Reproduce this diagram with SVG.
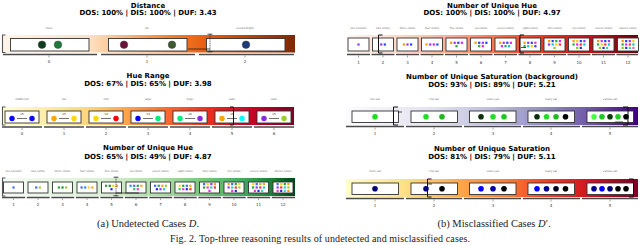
<svg xmlns="http://www.w3.org/2000/svg" width="640" height="245" viewBox="0 0 640 245">
<defs>
<linearGradient id="gDist" x1="0" x2="1" y1="0" y2="0">
<stop offset="0" stop-color="#fff5eb"/><stop offset="0.3" stop-color="#fde0c2"/><stop offset="0.42" stop-color="#fdb77a"/><stop offset="0.58" stop-color="#f67d2a"/><stop offset="0.72" stop-color="#e2580e"/><stop offset="0.86" stop-color="#b63f05"/><stop offset="1" stop-color="#7f2704"/>
</linearGradient>
<linearGradient id="gHue" x1="0" x2="1" y1="0" y2="0">
<stop offset="0" stop-color="#ffffd4"/><stop offset="0.15" stop-color="#ffedaa"/><stop offset="0.3" stop-color="#fed47a"/><stop offset="0.45" stop-color="#fd9b43"/><stop offset="0.6" stop-color="#fb5a2b"/><stop offset="0.75" stop-color="#e31e1d"/><stop offset="0.88" stop-color="#bd0026"/><stop offset="1" stop-color="#800026"/>
</linearGradient>
<linearGradient id="gGreen" x1="0" x2="1" y1="0" y2="0">
<stop offset="0" stop-color="#f7fcf5"/><stop offset="0.35" stop-color="#d9f0d3"/><stop offset="0.55" stop-color="#a8dca1"/><stop offset="0.7" stop-color="#74c476"/><stop offset="0.82" stop-color="#41ab5d"/><stop offset="0.92" stop-color="#1d7f3a"/><stop offset="1" stop-color="#00441b"/>
</linearGradient>
<linearGradient id="gReds" x1="0" x2="1" y1="0" y2="0">
<stop offset="0" stop-color="#fff5f0"/><stop offset="0.22" stop-color="#fdd2bf"/><stop offset="0.4" stop-color="#fc9f81"/><stop offset="0.55" stop-color="#f8643f"/><stop offset="0.7" stop-color="#e0301e"/><stop offset="0.85" stop-color="#b81419"/><stop offset="1" stop-color="#67000d"/>
</linearGradient>
<linearGradient id="gPurp" x1="0" x2="1" y1="0" y2="0">
<stop offset="0" stop-color="#fcfbfd"/><stop offset="0.3" stop-color="#e3e2ef"/><stop offset="0.5" stop-color="#bcbddc"/><stop offset="0.7" stop-color="#8c86c0"/><stop offset="0.85" stop-color="#6a51a3"/><stop offset="1" stop-color="#3f007d"/>
</linearGradient>
<linearGradient id="gSat" x1="0" x2="1" y1="0" y2="0">
<stop offset="0" stop-color="#ffffcc"/><stop offset="0.2" stop-color="#fee087"/><stop offset="0.38" stop-color="#feab49"/><stop offset="0.55" stop-color="#fc7a35"/><stop offset="0.7" stop-color="#ef3a22"/><stop offset="0.85" stop-color="#c8111f"/><stop offset="1" stop-color="#800026"/>
</linearGradient>
</defs>
<style>
.title{font-family:"DejaVu Sans",sans-serif;font-weight:bold;font-size:7px;text-anchor:middle;fill:#000}
.tk{font-family:"DejaVu Sans",sans-serif;font-size:4px;text-anchor:middle;fill:#333}
.lb{font-family:"DejaVu Sans",sans-serif;font-size:2.6px;text-anchor:middle;fill:#666}
.n{font-family:"DejaVu Sans",sans-serif;font-size:2.8px;text-anchor:middle;fill:#333}
.cap{font-family:"Liberation Serif",serif;font-size:10.5px;text-anchor:middle;fill:#222}
.fig{font-family:"Liberation Serif",serif;font-size:10px;text-anchor:middle;fill:#222}
.box{fill:#fff;stroke:#333;stroke-width:0.9}
.bar{stroke:#4a4a4a;stroke-width:1.5;fill:none}
.tick{stroke:#444;stroke-width:0.5}
.brk{fill:none;stroke:#111;stroke-width:1}
.lbrk{fill:none;stroke:#555;stroke-width:1.1}
.dsh{fill:none;stroke:#222;stroke-width:0.8;stroke-dasharray:1 0.8}
.ln{stroke:#222;stroke-width:0.8}
.dot{stroke:#333;stroke-width:0.4}
.pair{stroke:#333;stroke-width:0.7}
</style>

<!-- ===== Panel (a) : Distance ===== -->
<g id="a-distance">
<text class="title" x="148" y="7.5">Distance</text>
<text class="title" x="148" y="15">DOS: 100% | DIS: 100% | DUF: 3.43</text>
<rect x="2" y="35" width="293" height="17.5" fill="url(#gDist)"/>
<g id="a-dist-0"><text class="lb" x="49" y="29">close</text><rect class="box" x="10.5" y="38.5" width="78.5" height="12.5"/><circle class="dot" cx="42" cy="44.7" r="3.8" fill="#0b3d1e"/><circle class="dot" cx="58" cy="44.7" r="3.8" fill="#1c7a3c"/></g>
<g id="a-dist-1"><text class="lb" x="147" y="29">far</text><rect class="box" x="108.5" y="38.5" width="78.5" height="12.5"/><circle class="dot" cx="124" cy="44.7" r="3.8" fill="#6d1238"/><circle class="dot" cx="172" cy="44.7" r="3.8" fill="#3d5a2e"/></g>
<g id="a-dist-2"><text class="lb" x="245" y="29">overall bright</text><rect class="box" x="206.5" y="38.5" width="78.5" height="12.5"/><circle class="dot" cx="246" cy="44.7" r="3.8" fill="#1b3a78"/></g>
<g id="a-dist-axis">
<path class="bar" d="M3 54.5H97M101 54.5H195M199 54.5H294"/>
<path class="tick" d="M49 55.5V57.5M147 55.5V57.5M245 55.5V57.5"/>
<text class="tk" x="49" y="63">0</text><text class="tk" x="147" y="63">1</text><text class="tk" x="245" y="63">2</text>
</g>
</g>

<!-- ===== Panel (a) : Hue Range ===== -->
<g id="a-huerange">
<text class="title" x="148" y="78">Hue Range</text>
<text class="title" x="148" y="86">DOS: 67% | DIS: 65% | DUF: 3.98</text>
<rect x="2" y="107" width="292" height="18" fill="url(#gHue)"/>
<g id="a-hr-0"><text class="lb" x="22" y="100">indifferent</text><rect class="box" x="5" y="111" width="34" height="12"/><text class="n" x="22" y="115">15</text><line class="pair" x1="17" y1="118.5" x2="27" y2="118.5"/><circle cx="12" cy="118.5" r="2.7" fill="#0a0aff"/><circle cx="32" cy="118.5" r="2.7" fill="#0a0aff"/></g>
<g id="a-hr-1"><text class="lb" x="64" y="100">low</text><rect class="box" x="47" y="111" width="34" height="12"/><text class="n" x="64" y="115">15</text><line class="pair" x1="59" y1="118.5" x2="69" y2="118.5"/><circle cx="54" cy="118.5" r="2.7" fill="#ffa500"/><circle cx="74" cy="118.5" r="2.7" fill="#ffd700"/></g>
<g id="a-hr-2"><text class="lb" x="106" y="100">mid</text><rect class="box" x="89" y="111" width="34" height="12"/><text class="n" x="106" y="115">13</text><line class="pair" x1="101" y1="118.5" x2="111" y2="118.5"/><circle cx="96" cy="118.5" r="2.7" fill="#ffd700"/><circle cx="116" cy="118.5" r="2.7" fill="#ff0000"/></g>
<g id="a-hr-3"><text class="lb" x="148" y="100">large</text><rect class="box" x="131" y="111" width="34" height="12"/><text class="n" x="148" y="115">13</text><line class="pair" x1="143" y1="118.5" x2="153" y2="118.5"/><circle cx="138" cy="118.5" r="2.7" fill="#0000ff"/><circle cx="158" cy="118.5" r="2.7" fill="#00ee77"/></g>
<g id="a-hr-4"><text class="lb" x="190" y="100">huge</text><rect class="box" x="173" y="111" width="34" height="12"/><text class="n" x="190" y="115">16</text><line class="pair" x1="185" y1="118.5" x2="195" y2="118.5"/><circle cx="180" cy="118.5" r="2.7" fill="#00ee77"/><circle cx="200" cy="118.5" r="2.7" fill="#8a2be2"/></g>
<g id="a-hr-5"><text class="lb" x="232" y="100">wide</text><rect class="box" x="215" y="111" width="34" height="12"/><text class="n" x="232" y="115">15</text><line class="pair" x1="227" y1="118.5" x2="237" y2="118.5"/><circle cx="222" cy="118.5" r="2.7" fill="#ffa500"/><circle cx="242" cy="118.5" r="2.7" fill="#00ffff"/></g>
<g id="a-hr-6"><text class="lb" x="274" y="100">wide</text><rect class="box" x="257" y="111" width="34" height="12"/><text class="n" x="274" y="115">15</text><line class="pair" x1="269" y1="118.5" x2="279" y2="118.5"/><circle cx="264" cy="118.5" r="2.7" fill="#8a2be2"/><circle cx="284" cy="118.5" r="2.7" fill="#9acd32"/></g>
<g id="a-hr-axis">
<path class="bar" d="M2 127H42M44 127H84M86 127H126M128 127H168M170 127H210M212 127H252M254 127H294"/>
<path class="tick" d="M22 128V130M64 128V130M106 128V130M148 128V130M190 128V130M232 128V130M274 128V130"/>
<text class="tk" x="22" y="134.5">0</text><text class="tk" x="64" y="134.5">1</text><text class="tk" x="106" y="134.5">2</text><text class="tk" x="148" y="134.5">3</text><text class="tk" x="190" y="134.5">4</text><text class="tk" x="232" y="134.5">5</text><text class="tk" x="274" y="134.5">6</text>
</g>
</g>

<!-- ===== Panel (a) : Number of Unique Hue ===== -->
<g id="a-uhue">
<text class="title" x="148" y="150">Number of Unique Hue</text>
<text class="title" x="148" y="158.5">DOS: 65% | DIS: 49% | DUF: 4.87</text>
<rect x="2" y="178" width="293" height="18" fill="url(#gGreen)"/>
<g class="lb">
<text class="lb" x="13.5" y="172">one unicolor</text><text class="lb" x="38" y="172">two colors</text><text class="lb" x="62.5" y="172">three colors</text><text class="lb" x="87" y="172">four colors</text><text class="lb" x="111.5" y="172">five colors</text><text class="lb" x="136" y="172">six colors</text><text class="lb" x="160.5" y="172">seven colors</text><text class="lb" x="185" y="172">eight colors</text><text class="lb" x="209.5" y="172">nine colors</text><text class="lb" x="234" y="172">ten colors</text><text class="lb" x="258.5" y="172">eleven colors</text><text class="lb" x="283" y="172">twelve colors</text>
</g>
<g id="a-uh-1" transform="translate(13.5,187.5)"><rect class="box" x="-10" y="-5.5" width="20" height="11"/><rect x="-1.1" y="-1.1" width="2.2" height="2.2" fill="#3b6cff"/></g>
<g id="a-uh-2" transform="translate(38,187.5)"><rect class="box" x="-10" y="-5.5" width="20" height="11"/><rect x="-2.9" y="-1.1" width="2.2" height="2.2" fill="#3b6cff"/><rect x="0.7" y="-1.1" width="2.2" height="2.2" fill="#9acd32"/></g>
<g id="a-uh-3" transform="translate(62.5,187.5)"><rect class="box" x="-10" y="-5.5" width="20" height="11"/><rect x="-4.7" y="-1.1" width="2.2" height="2.2" fill="#2e9e3e"/><rect x="-1.1" y="-1.1" width="2.2" height="2.2" fill="#228b22"/><rect x="2.5" y="-1.1" width="2.2" height="2.2" fill="#9acd32"/></g>
<g id="a-uh-4" transform="translate(87,187.5)"><rect class="box" x="-10" y="-5.5" width="20" height="11"/><rect x="-6.5" y="-1.1" width="2.2" height="2.2" fill="#3b6cff"/><rect x="-2.9" y="-1.1" width="2.2" height="2.2" fill="#1e90ff"/><rect x="0.7" y="-1.1" width="2.2" height="2.2" fill="#ffd700"/><rect x="4.3" y="-1.1" width="2.2" height="2.2" fill="#ffa500"/></g>
<g id="a-uh-5" transform="translate(111.5,187.5)"><rect class="box" x="-10" y="-5.5" width="20" height="11"/><rect x="-6.5" y="-2.8" width="2.2" height="2.2" fill="#2e9e3e"/><rect x="-2.9" y="-2.8" width="2.2" height="2.2" fill="#228b22"/><rect x="0.7" y="-2.8" width="2.2" height="2.2" fill="#ffd700"/><rect x="4.3" y="-2.8" width="2.2" height="2.2" fill="#ffa500"/><rect x="-1.1" y="0.6" width="2.2" height="2.2" fill="#1e2fd8"/></g>
<g id="a-uh-6" transform="translate(136,187.5)"><rect class="box" x="-10" y="-5.5" width="20" height="11"/><rect x="-6.5" y="-2.8" width="2.2" height="2.2" fill="#1e90ff"/><rect x="-2.9" y="-2.8" width="2.2" height="2.2" fill="#3b6cff"/><rect x="0.7" y="-2.8" width="2.2" height="2.2" fill="#2e9e3e"/><rect x="4.3" y="-2.8" width="2.2" height="2.2" fill="#ffa500"/><rect x="-2.9" y="0.6" width="2.2" height="2.2" fill="#22cc66"/><rect x="0.7" y="0.6" width="2.2" height="2.2" fill="#ff33cc"/></g>
<g id="a-uh-7" transform="translate(160.5,187.5)"><rect class="box" x="-10" y="-5.5" width="20" height="11"/><rect x="-6.5" y="-2.8" width="2.2" height="2.2" fill="#3b6cff"/><rect x="-2.9" y="-2.8" width="2.2" height="2.2" fill="#2e9e3e"/><rect x="0.7" y="-2.8" width="2.2" height="2.2" fill="#ffa500"/><rect x="4.3" y="-2.8" width="2.2" height="2.2" fill="#9acd32"/><rect x="-4.7" y="0.6" width="2.2" height="2.2" fill="#1e2fd8"/><rect x="-1.1" y="0.6" width="2.2" height="2.2" fill="#9a33ff"/><rect x="2.5" y="0.6" width="2.2" height="2.2" fill="#22cccc"/></g>
<g id="a-uh-8" transform="translate(185,187.5)"><rect class="box" x="-10" y="-5.5" width="20" height="11"/><rect x="-6.5" y="-2.8" width="2.2" height="2.2" fill="#ffd700"/><rect x="-2.9" y="-2.8" width="2.2" height="2.2" fill="#2e9e3e"/><rect x="0.7" y="-2.8" width="2.2" height="2.2" fill="#3b6cff"/><rect x="4.3" y="-2.8" width="2.2" height="2.2" fill="#ffa500"/><rect x="-6.5" y="0.6" width="2.2" height="2.2" fill="#22cc66"/><rect x="-2.9" y="0.6" width="2.2" height="2.2" fill="#ff33cc"/><rect x="0.7" y="0.6" width="2.2" height="2.2" fill="#1e2fd8"/><rect x="4.3" y="0.6" width="2.2" height="2.2" fill="#ff3030"/></g>
<g id="a-uh-9" transform="translate(209.5,187.5)"><rect class="box" x="-10" y="-5.5" width="20" height="11"/><rect x="-6.5" y="-4.5" width="2.2" height="2.2" fill="#3b6cff"/><rect x="-2.9" y="-4.5" width="2.2" height="2.2" fill="#ffd700"/><rect x="0.7" y="-4.5" width="2.2" height="2.2" fill="#9a33ff"/><rect x="4.3" y="-4.5" width="2.2" height="2.2" fill="#ffa500"/><rect x="-6.5" y="-1.1" width="2.2" height="2.2" fill="#2e9e3e"/><rect x="-2.9" y="-1.1" width="2.2" height="2.2" fill="#ff33cc"/><rect x="0.7" y="-1.1" width="2.2" height="2.2" fill="#22cccc"/><rect x="4.3" y="-1.1" width="2.2" height="2.2" fill="#ff3030"/><rect x="-1.1" y="2.3" width="2.2" height="2.2" fill="#ee22ee"/></g>
<g id="a-uh-10" transform="translate(234,187.5)"><rect class="box" x="-10" y="-5.5" width="20" height="11"/><rect x="-6.5" y="-4.5" width="2.2" height="2.2" fill="#ffa500"/><rect x="-2.9" y="-4.5" width="2.2" height="2.2" fill="#3b6cff"/><rect x="0.7" y="-4.5" width="2.2" height="2.2" fill="#2e9e3e"/><rect x="4.3" y="-4.5" width="2.2" height="2.2" fill="#ffd700"/><rect x="-6.5" y="-1.1" width="2.2" height="2.2" fill="#9a33ff"/><rect x="-2.9" y="-1.1" width="2.2" height="2.2" fill="#22cccc"/><rect x="0.7" y="-1.1" width="2.2" height="2.2" fill="#ff3030"/><rect x="4.3" y="-1.1" width="2.2" height="2.2" fill="#9acd32"/><rect x="-2.9" y="2.3" width="2.2" height="2.2" fill="#ff33cc"/><rect x="0.7" y="2.3" width="2.2" height="2.2" fill="#1e2fd8"/></g>
<g id="a-uh-11" transform="translate(258.5,187.5)"><rect class="box" x="-10" y="-5.5" width="20" height="11"/><rect x="-6.5" y="-4.5" width="2.2" height="2.2" fill="#ffd700"/><rect x="-2.9" y="-4.5" width="2.2" height="2.2" fill="#3b6cff"/><rect x="0.7" y="-4.5" width="2.2" height="2.2" fill="#9acd32"/><rect x="4.3" y="-4.5" width="2.2" height="2.2" fill="#ffa500"/><rect x="-6.5" y="-1.1" width="2.2" height="2.2" fill="#2e9e3e"/><rect x="-2.9" y="-1.1" width="2.2" height="2.2" fill="#9a33ff"/><rect x="0.7" y="-1.1" width="2.2" height="2.2" fill="#ff3030"/><rect x="4.3" y="-1.1" width="2.2" height="2.2" fill="#22cccc"/><rect x="-4.7" y="2.3" width="2.2" height="2.2" fill="#ff33cc"/><rect x="-1.1" y="2.3" width="2.2" height="2.2" fill="#1e2fd8"/><rect x="2.5" y="2.3" width="2.2" height="2.2" fill="#33ddaa"/></g>
<g id="a-uh-12" transform="translate(283,187.5)"><rect class="box" x="-10" y="-5.5" width="20" height="11"/><rect x="-6.5" y="-4.5" width="2.2" height="2.2" fill="#3b6cff"/><rect x="-2.9" y="-4.5" width="2.2" height="2.2" fill="#ffd700"/><rect x="0.7" y="-4.5" width="2.2" height="2.2" fill="#2e9e3e"/><rect x="4.3" y="-4.5" width="2.2" height="2.2" fill="#ffa500"/><rect x="-6.5" y="-1.1" width="2.2" height="2.2" fill="#9a33ff"/><rect x="-2.9" y="-1.1" width="2.2" height="2.2" fill="#ff3030"/><rect x="0.7" y="-1.1" width="2.2" height="2.2" fill="#22cccc"/><rect x="4.3" y="-1.1" width="2.2" height="2.2" fill="#9acd32"/><rect x="-6.5" y="2.3" width="2.2" height="2.2" fill="#ff33cc"/><rect x="-2.9" y="2.3" width="2.2" height="2.2" fill="#1e2fd8"/><rect x="0.7" y="2.3" width="2.2" height="2.2" fill="#33ddaa"/><rect x="4.3" y="2.3" width="2.2" height="2.2" fill="#ff8800"/></g>
<g id="a-uh-axis">
<path class="bar" d="M2 197.5H25.2M26.8 197.5H49.7M51.3 197.5H74.2M75.8 197.5H98.7M100.3 197.5H123.2M124.8 197.5H147.7M149.3 197.5H172.2M173.8 197.5H196.7M198.3 197.5H221.2M222.8 197.5H245.7M247.3 197.5H270.2M271.8 197.5H295"/>
<path class="tick" d="M13.5 198.5V200M38 198.5V200M62.5 198.5V200M87 198.5V200M111.5 198.5V200M136 198.5V200M160.5 198.5V200M185 198.5V200M209.5 198.5V200M234 198.5V200M258.5 198.5V200M283 198.5V200"/>
<text class="tk" x="13.5" y="205.5">1</text><text class="tk" x="38" y="205.5">2</text><text class="tk" x="62.5" y="205.5">3</text><text class="tk" x="87" y="205.5">4</text><text class="tk" x="111.5" y="205.5">5</text><text class="tk" x="136" y="205.5">6</text><text class="tk" x="160.5" y="205.5">7</text><text class="tk" x="185" y="205.5">8</text><text class="tk" x="209.5" y="205.5">9</text><text class="tk" x="234" y="205.5">10</text><text class="tk" x="258.5" y="205.5">11</text><text class="tk" x="283" y="205.5">12</text>
</g>
</g>

<!-- ===== Panel (b) : Number of Unique Hue ===== -->
<g id="b-uhue">
<text class="title" x="492" y="7.5">Number of Unique Hue</text>
<text class="title" x="492" y="15">DOS: 100% | DIS: 100% | DUF: 4.97</text>
<rect x="347" y="35" width="291" height="18" fill="url(#gReds)"/>
<g>
<text class="lb" x="358.5" y="29">one unicolor</text><text class="lb" x="383" y="29">two colors</text><text class="lb" x="407.5" y="29">three colors</text><text class="lb" x="432" y="29">four colors</text><text class="lb" x="456.5" y="29">five colors</text><text class="lb" x="481" y="29">six colors</text><text class="lb" x="505.5" y="29">seven colors</text><text class="lb" x="530" y="29">eight colors</text><text class="lb" x="554.5" y="29">nine colors</text><text class="lb" x="579" y="29">ten colors</text><text class="lb" x="603.5" y="29">eleven colors</text><text class="lb" x="628" y="29">twelve colors</text>
</g>
<g id="b-uh-1" transform="translate(358.5,44.5)"><rect class="box" x="-10.5" y="-6.5" width="21" height="13"/><rect x="-1.1" y="-1.1" width="2.2" height="2.2" fill="#9933ff"/></g>
<g id="b-uh-2" transform="translate(383,44.5)"><rect class="box" x="-10.5" y="-6.5" width="21" height="13"/><rect x="-2.9" y="-1.1" width="2.2" height="2.2" fill="#9933ff"/><rect x="0.7" y="-1.1" width="2.2" height="2.2" fill="#2244ff"/></g>
<g id="b-uh-3" transform="translate(407.5,44.5)"><rect class="box" x="-10.5" y="-6.5" width="21" height="13"/><rect x="-4.7" y="-1.1" width="2.2" height="2.2" fill="#ff9900"/><rect x="-1.1" y="-1.1" width="2.2" height="2.2" fill="#9933ff"/><rect x="2.5" y="-1.1" width="2.2" height="2.2" fill="#2244ff"/></g>
<g id="b-uh-4" transform="translate(432,44.5)"><rect class="box" x="-10.5" y="-6.5" width="21" height="13"/><rect x="-6.5" y="-1.1" width="2.2" height="2.2" fill="#ff9900"/><rect x="-2.9" y="-1.1" width="2.2" height="2.2" fill="#9933ff"/><rect x="0.7" y="-1.1" width="2.2" height="2.2" fill="#cc22ff"/><rect x="4.3" y="-1.1" width="2.2" height="2.2" fill="#2244ff"/></g>
<g id="b-uh-5" transform="translate(456.5,44.5)"><rect class="box" x="-10.5" y="-6.5" width="21" height="13"/><rect x="-6.5" y="-2.8" width="2.2" height="2.2" fill="#ff9900"/><rect x="-2.9" y="-2.8" width="2.2" height="2.2" fill="#9933ff"/><rect x="0.7" y="-2.8" width="2.2" height="2.2" fill="#2244ff"/><rect x="4.3" y="-2.8" width="2.2" height="2.2" fill="#ee22ee"/><rect x="-1.1" y="0.6" width="2.2" height="2.2" fill="#22aa44"/></g>
<g id="b-uh-6" transform="translate(481,44.5)"><rect class="box" x="-10.5" y="-6.5" width="21" height="13"/><rect x="-6.5" y="-2.8" width="2.2" height="2.2" fill="#ff9900"/><rect x="-2.9" y="-2.8" width="2.2" height="2.2" fill="#2244ff"/><rect x="0.7" y="-2.8" width="2.2" height="2.2" fill="#9933ff"/><rect x="4.3" y="-2.8" width="2.2" height="2.2" fill="#2244ff"/><rect x="-2.9" y="0.6" width="2.2" height="2.2" fill="#22aa44"/><rect x="0.7" y="0.6" width="2.2" height="2.2" fill="#ee22ee"/></g>
<g id="b-uh-7" transform="translate(505.5,44.5)"><rect class="box" x="-10.5" y="-6.5" width="21" height="13"/><rect x="-6.5" y="-2.8" width="2.2" height="2.2" fill="#ff9900"/><rect x="-2.9" y="-2.8" width="2.2" height="2.2" fill="#9933ff"/><rect x="0.7" y="-2.8" width="2.2" height="2.2" fill="#2244ff"/><rect x="4.3" y="-2.8" width="2.2" height="2.2" fill="#ee22ee"/><rect x="-4.7" y="0.6" width="2.2" height="2.2" fill="#ee22ee"/><rect x="-1.1" y="0.6" width="2.2" height="2.2" fill="#22aa44"/><rect x="2.5" y="0.6" width="2.2" height="2.2" fill="#00cccc"/></g>
<g id="b-uh-8" transform="translate(530,44.5)"><rect class="box" x="-10.5" y="-6.5" width="21" height="13"/><rect x="-6.5" y="-2.8" width="2.2" height="2.2" fill="#ff9900"/><rect x="-2.9" y="-2.8" width="2.2" height="2.2" fill="#9933ff"/><rect x="0.7" y="-2.8" width="2.2" height="2.2" fill="#2244ff"/><rect x="4.3" y="-2.8" width="2.2" height="2.2" fill="#ee22ee"/><rect x="-6.5" y="0.6" width="2.2" height="2.2" fill="#22aa44"/><rect x="-2.9" y="0.6" width="2.2" height="2.2" fill="#00cccc"/><rect x="0.7" y="0.6" width="2.2" height="2.2" fill="#ffcc00"/><rect x="4.3" y="0.6" width="2.2" height="2.2" fill="#2244ff"/></g>
<g id="b-uh-9" transform="translate(554.5,44.5)"><rect class="box" x="-10.5" y="-6.5" width="21" height="13"/><rect x="-6.5" y="-4.5" width="2.2" height="2.2" fill="#ff9900"/><rect x="-2.9" y="-4.5" width="2.2" height="2.2" fill="#2244ff"/><rect x="0.7" y="-4.5" width="2.2" height="2.2" fill="#22aa44"/><rect x="4.3" y="-4.5" width="2.2" height="2.2" fill="#ee22ee"/><rect x="-6.5" y="-1.1" width="2.2" height="2.2" fill="#9933ff"/><rect x="-2.9" y="-1.1" width="2.2" height="2.2" fill="#00cccc"/><rect x="0.7" y="-1.1" width="2.2" height="2.2" fill="#ffcc00"/><rect x="4.3" y="-1.1" width="2.2" height="2.2" fill="#ff3333"/><rect x="-1.1" y="2.3" width="2.2" height="2.2" fill="#88cc22"/></g>
<g id="b-uh-10" transform="translate(579,44.5)"><rect class="box" x="-10.5" y="-6.5" width="21" height="13"/><rect x="-6.5" y="-4.5" width="2.2" height="2.2" fill="#ff9900"/><rect x="-2.9" y="-4.5" width="2.2" height="2.2" fill="#ffcc00"/><rect x="0.7" y="-4.5" width="2.2" height="2.2" fill="#2244ff"/><rect x="4.3" y="-4.5" width="2.2" height="2.2" fill="#9933ff"/><rect x="-6.5" y="-1.1" width="2.2" height="2.2" fill="#22aa44"/><rect x="-2.9" y="-1.1" width="2.2" height="2.2" fill="#ee22ee"/><rect x="0.7" y="-1.1" width="2.2" height="2.2" fill="#ff3333"/><rect x="4.3" y="-1.1" width="2.2" height="2.2" fill="#00cccc"/><rect x="-2.9" y="2.3" width="2.2" height="2.2" fill="#88cc22"/><rect x="0.7" y="2.3" width="2.2" height="2.2" fill="#2233dd"/></g>
<g id="b-uh-11" transform="translate(603.5,44.5)"><rect class="box" x="-10.5" y="-6.5" width="21" height="13"/><rect x="-6.5" y="-4.5" width="2.2" height="2.2" fill="#ff9900"/><rect x="-2.9" y="-4.5" width="2.2" height="2.2" fill="#ee22ee"/><rect x="0.7" y="-4.5" width="2.2" height="2.2" fill="#2244ff"/><rect x="4.3" y="-4.5" width="2.2" height="2.2" fill="#9933ff"/><rect x="-6.5" y="-1.1" width="2.2" height="2.2" fill="#22aa44"/><rect x="-2.9" y="-1.1" width="2.2" height="2.2" fill="#ffcc00"/><rect x="0.7" y="-1.1" width="2.2" height="2.2" fill="#ff3333"/><rect x="4.3" y="-1.1" width="2.2" height="2.2" fill="#00cccc"/><rect x="-4.7" y="2.3" width="2.2" height="2.2" fill="#88cc22"/><rect x="-1.1" y="2.3" width="2.2" height="2.2" fill="#2233dd"/><rect x="2.5" y="2.3" width="2.2" height="2.2" fill="#33dd99"/></g>
<g id="b-uh-12" transform="translate(628,44.5)"><rect class="box" x="-10.5" y="-6.5" width="21" height="13"/><rect x="-6.5" y="-4.5" width="2.2" height="2.2" fill="#ff9900"/><rect x="-2.9" y="-4.5" width="2.2" height="2.2" fill="#2244ff"/><rect x="0.7" y="-4.5" width="2.2" height="2.2" fill="#9933ff"/><rect x="4.3" y="-4.5" width="2.2" height="2.2" fill="#ffcc00"/><rect x="-6.5" y="-1.1" width="2.2" height="2.2" fill="#22aa44"/><rect x="-2.9" y="-1.1" width="2.2" height="2.2" fill="#ee22ee"/><rect x="0.7" y="-1.1" width="2.2" height="2.2" fill="#ff3333"/><rect x="4.3" y="-1.1" width="2.2" height="2.2" fill="#00cccc"/><rect x="-6.5" y="2.3" width="2.2" height="2.2" fill="#88cc22"/><rect x="-2.9" y="2.3" width="2.2" height="2.2" fill="#2233dd"/><rect x="0.7" y="2.3" width="2.2" height="2.2" fill="#33dd99"/><rect x="4.3" y="2.3" width="2.2" height="2.2" fill="#ff66aa"/></g>
<g id="b-uh-axis">
<path class="bar" d="M347 54.5H370M371.5 54.5H394.5M396 54.5H419M420.5 54.5H443.5M445 54.5H468M469.5 54.5H492.5M494 54.5H517M518.5 54.5H541.5M543 54.5H566M567.5 54.5H590.5M592 54.5H615M616.5 54.5H638"/>
<path class="tick" d="M358.5 55.5V57.5M383 55.5V57.5M407.5 55.5V57.5M432 55.5V57.5M456.5 55.5V57.5M481 55.5V57.5M505.5 55.5V57.5M530 55.5V57.5M554.5 55.5V57.5M579 55.5V57.5M603.5 55.5V57.5M628 55.5V57.5"/>
<text class="tk" x="358.5" y="63.5">1</text><text class="tk" x="383" y="63.5">2</text><text class="tk" x="407.5" y="63.5">3</text><text class="tk" x="432" y="63.5">4</text><text class="tk" x="456.5" y="63.5">5</text><text class="tk" x="481" y="63.5">6</text><text class="tk" x="505.5" y="63.5">7</text><text class="tk" x="530" y="63.5">8</text><text class="tk" x="554.5" y="63.5">9</text><text class="tk" x="579" y="63.5">10</text><text class="tk" x="603.5" y="63.5">11</text><text class="tk" x="628" y="63.5">12</text>
</g>
</g>

<!-- ===== Panel (b) : Number of Unique Saturation (background) ===== -->
<g id="b-satbg">
<text class="title" x="492" y="79">Number of Unique Saturation (background)</text>
<text class="title" x="492" y="86.5">DOS: 93% | DIS: 89% | DUF: 5.21</text>
<rect x="346" y="107" width="292" height="18" fill="url(#gPurp)"/>
<g id="b-sb-1"><text class="lb" x="375" y="100">one sat</text><rect class="box" x="352" y="111" width="46.5" height="11.5"/><circle cx="375" cy="116.8" r="2.8" fill="#22dd22"/></g>
<g id="b-sb-2"><text class="lb" x="434" y="100">few sat</text><rect class="box" x="411" y="111" width="46.5" height="11.5"/><circle cx="426" cy="116.8" r="2.8" fill="#22dd22"/><circle cx="442" cy="116.8" r="2.8" fill="#1fb51f"/></g>
<g id="b-sb-3"><text class="lb" x="493" y="100">some sat</text><rect class="box" x="469.5" y="111" width="46.5" height="11.5"/><circle cx="481" cy="116.8" r="2.8" fill="#0b2e0b"/><circle cx="493" cy="116.8" r="2.8" fill="#22dd22"/><circle cx="504" cy="116.8" r="2.8" fill="#1ec81e"/></g>
<g id="b-sb-4"><text class="lb" x="551" y="100">many sat</text><rect class="box" x="528" y="111" width="46.5" height="11.5"/><circle cx="537" cy="116.8" r="2.8" fill="#0b2e0b"/><circle cx="546.5" cy="116.8" r="2.8" fill="#22dd22"/><circle cx="556" cy="116.8" r="2.8" fill="#1fbb1f"/><circle cx="565.5" cy="116.8" r="2.8" fill="#000"/></g>
<g id="b-sb-5"><text class="lb" x="610" y="100">various sat</text><rect class="box" x="587" y="111" width="46.5" height="11.5"/><circle cx="594" cy="116.8" r="2.8" fill="#44ff44"/><circle cx="602" cy="116.8" r="2.8" fill="#1fc81f"/><circle cx="610" cy="116.8" r="2.8" fill="#0b3a0b"/><circle cx="618" cy="116.8" r="2.8" fill="#22cc22"/><circle cx="626" cy="116.8" r="2.8" fill="#000"/></g>
<g id="b-sb-axis">
<path class="bar" d="M346 126.5H404M406 126.5H462M464 126.5H521M523 126.5H580M582 126.5H638"/>
<path class="tick" d="M375 127.5V129.5M434 127.5V129.5M493 127.5V129.5M551 127.5V129.5M610 127.5V129.5"/>
<text class="tk" x="375" y="134.5">1</text><text class="tk" x="434" y="134.5">2</text><text class="tk" x="493" y="134.5">3</text><text class="tk" x="551" y="134.5">4</text><text class="tk" x="610" y="134.5">5</text>
</g>
</g>

<!-- ===== Panel (b) : Number of Unique Saturation ===== -->
<g id="b-sat">
<text class="title" x="492" y="150.5">Number of Unique Saturation</text>
<text class="title" x="492" y="158.5">DOS: 81% | DIS: 79% | DUF: 5.11</text>
<rect x="346" y="179" width="292" height="18" fill="url(#gSat)"/>
<g id="b-s-1"><text class="lb" x="375" y="172">more sat</text><rect class="box" x="352" y="183" width="46.5" height="11.5"/><circle cx="375" cy="188.8" r="2.8" fill="#000070"/></g>
<g id="b-s-2"><text class="lb" x="434" y="172">few sat</text><rect class="box" x="411" y="183" width="46.5" height="11.5"/><circle cx="426" cy="188.8" r="2.8" fill="#000080"/><circle cx="442" cy="188.8" r="2.8" fill="#000"/></g>
<g id="b-s-3"><text class="lb" x="493" y="172">some sat</text><rect class="box" x="469.5" y="183" width="46.5" height="11.5"/><circle cx="481" cy="188.8" r="2.8" fill="#0000ff"/><circle cx="493" cy="188.8" r="2.8" fill="#0000a0"/><circle cx="504" cy="188.8" r="2.8" fill="#000"/></g>
<g id="b-s-4"><text class="lb" x="551" y="172">many sat</text><rect class="box" x="528" y="183" width="46.5" height="11.5"/><circle cx="537" cy="188.8" r="2.8" fill="#0000ff"/><circle cx="546.5" cy="188.8" r="2.8" fill="#00008b"/><circle cx="556" cy="188.8" r="2.8" fill="#000020"/><circle cx="565.5" cy="188.8" r="2.8" fill="#000"/></g>
<g id="b-s-5"><text class="lb" x="610" y="172">various sat</text><rect class="box" x="587" y="183" width="46.5" height="11.5"/><circle cx="594" cy="188.8" r="2.8" fill="#00008b"/><circle cx="602" cy="188.8" r="2.8" fill="#0000ff"/><circle cx="610" cy="188.8" r="2.8" fill="#000070"/><circle cx="618" cy="188.8" r="2.8" fill="#000"/><circle cx="626" cy="188.8" r="2.8" fill="#000"/></g>
<g id="b-s-axis">
<path class="bar" d="M346 198.5H404M406 198.5H462M464 198.5H521M523 198.5H580M582 198.5H638"/>
<path class="tick" d="M375 199.5V201.5M434 199.5V201.5M493 199.5V201.5M551 199.5V201.5M610 199.5V201.5"/>
<text class="tk" x="375" y="206.5">1</text><text class="tk" x="434" y="206.5">2</text><text class="tk" x="493" y="206.5">3</text><text class="tk" x="551" y="206.5">4</text><text class="tk" x="610" y="206.5">5</text>
</g>
</g>

<!-- ===== Connectors / brackets ===== -->
<g id="connectors">
<path class="lbrk" d="M5.5 35H2.5V52.5H5.5"/>
<path class="dsh" d="M210 34V52"/><path class="ln" d="M207.5 34.2H212.5M207.5 51.8H212.5M188 49H210"/>
<path class="lbrk" d="M5.5 107H2.5V125H5.5"/>
<path class="brk" d="M230 107H233.5V125H230"/>
<path class="lbrk" d="M5.5 178H2.5V196H5.5"/>
<path class="dsh" d="M116 177V196"/><path class="ln" d="M113.5 177.2H118.5M113.5 195.8H118.5M116 193H139"/>
<path class="brk" d="M382.5 35H378.5V53H382.5"/>
<path class="brk" d="M524 35H520V53H524"/><path class="ln" d="M521 47.5H526"/>
<path class="brk" d="M398 107H393.5V125H398"/><path class="ln" d="M398 112H402"/>
<path class="brk" d="M623 107H628V125H623"/><path class="ln" d="M615 122H623"/>
<path class="brk" d="M431.5 179H427.5V197H431.5"/><path class="ln" d="M428 184H432"/>
<path class="brk" d="M629 179H633.5V197H629"/>
</g>

<!-- ===== Captions ===== -->
<text class="cap" x="148" y="227">(a) Undetected Cases <tspan font-style="italic">D</tspan>.</text>
<text class="cap" x="494" y="227">(b) Misclassified Cases <tspan font-style="italic">D</tspan>′.</text>
<text class="fig" x="320" y="242" textLength="300" lengthAdjust="spacing">Fig. 2.  Top-three reasoning results of undetected and misclassified cases.</text>
</svg>
